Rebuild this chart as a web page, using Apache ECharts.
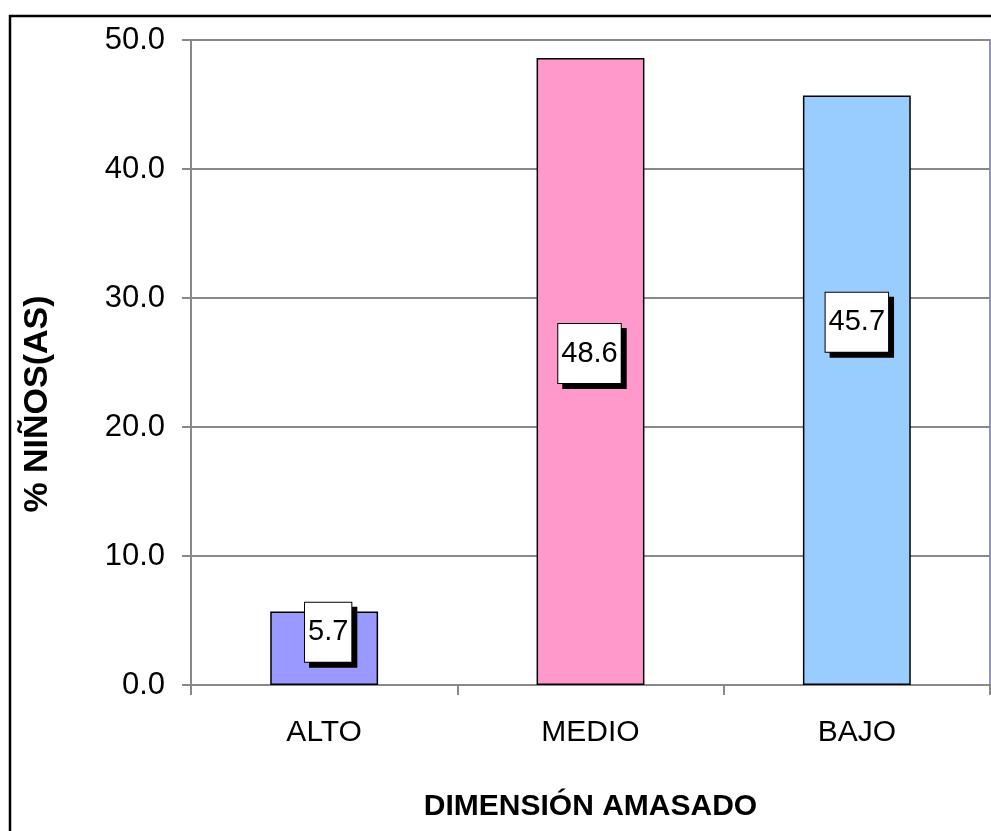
<!DOCTYPE html>
<html>
<head>
<meta charset="utf-8">
<script src="https://cdn.jsdelivr.net/npm/echarts@6/dist/echarts.min.js"></script>
<style>
  html, body { margin: 0; padding: 0; background: #fff; }
  #chart { width: 991px; height: 831px; }
</style>
</head>
<body>
<div id="chart"></div>
<script>
// Niveles de la dimensión "amasado" y porcentaje de niños(as) en cada uno
const categories = ['ALTO', 'MEDIO', 'BAJO'];
const percentages = [5.7, 48.6, 45.7];
const yTicks = [0, 10, 20, 30, 40, 50];

// Colores de relleno de cada barra
const barColors = ['#9999FF', '#FF99CC', '#99CCFF'];
// Desplazamiento de cada etiqueta de valor respecto al centro de su barra
const labelOffsets = [[4, -16], [-1, -18], [0, -68]];

const FONT = '"Liberation Sans", Arial, sans-serif';

const chart = echarts.init(document.getElementById('chart'), null, { renderer: 'canvas' });

chart.setOption({
  backgroundColor: '#ffffff',
  animation: false,
  graphic: [
    {
      // Marco exterior del gráfico
      type: 'rect',
      shape: { x: 10, y: 16, width: 1100, height: 1000 },
      style: { fill: 'none', stroke: '#000', lineWidth: 2.5 },
      z: 100
    },
    {
      // Título del eje vertical
      type: 'text',
      x: 38,
      y: 404,
      rotation: Math.PI / 2,
      style: {
        text: '% NIÑOS(AS)',
        font: 'bold 34px ' + FONT,
        fill: '#000',
        align: 'center',
        verticalAlign: 'middle'
      }
    }
  ],
  grid: {
    left: 191, top: 40, width: 799, height: 645,
    show: true,
    borderColor: '#7070A0',
    borderWidth: 1.5,
    backgroundColor: 'transparent'
  },
  xAxis: {
    type: 'category',
    data: categories,
    name: 'DIMENSIÓN AMASADO',
    nameLocation: 'middle',
    nameGap: 107,
    nameTextStyle: { fontFamily: FONT, fontSize: 30, fontWeight: 'bold', color: '#000' },
    axisLine: { lineStyle: { color: '#888', width: 2 } },
    axisTick: { show: true, length: 10, lineStyle: { color: '#888', width: 2 } },
    axisLabel: { fontFamily: FONT, fontSize: 30, color: '#000', margin: 33 }
  },
  yAxis: {
    type: 'value',
    min: yTicks[0],
    max: yTicks[yTicks.length - 1],
    interval: yTicks[1] - yTicks[0],
    axisLine: { show: true, lineStyle: { color: '#888', width: 2 } },
    axisTick: { show: true, length: 9, lineStyle: { color: '#888', width: 2 } },
    splitLine: { show: true, lineStyle: { color: '#888', width: 2 } },
    axisLabel: {
      fontFamily: FONT, fontSize: 31, color: '#000', margin: 26,
      formatter: v => v.toFixed(1)
    }
  },
  series: [
    {
      type: 'bar',
      barWidth: '40.5%',
      data: percentages.map((v, i) => ({
        value: v,
        itemStyle: { color: barColors[i] },
        label: { offset: labelOffsets[i] }
      })),
      itemStyle: { borderColor: '#000', borderWidth: 1.5 },
      label: {
        show: true,
        position: 'inside',
        formatter: p => p.value.toFixed(1),
        fontFamily: FONT,
        fontSize: 29,
        color: '#000',
        lineHeight: 33,
        padding: [13, 3],
        backgroundColor: '#fff',
        borderColor: '#000',
        borderWidth: 1,
        shadowColor: '#000',
        shadowBlur: 0,
        shadowOffsetX: 5,
        shadowOffsetY: 5
      }
    }
  ]
});
</script>
</body>
</html>
